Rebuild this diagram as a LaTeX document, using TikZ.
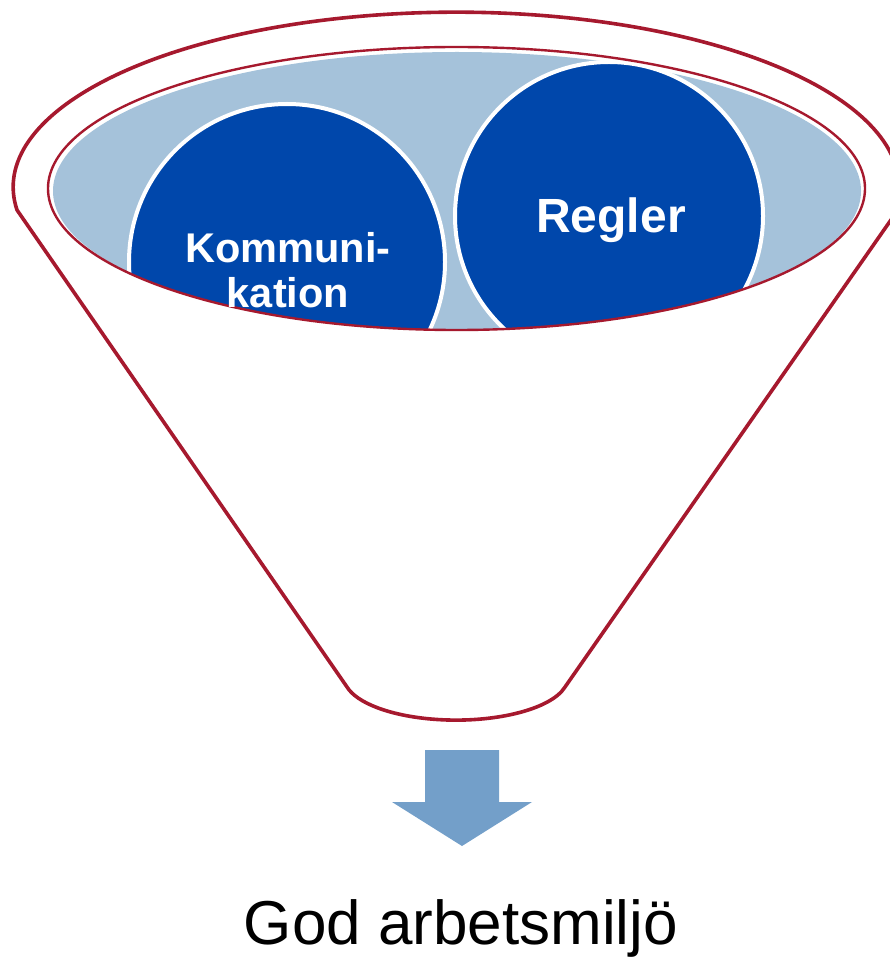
\documentclass[tikz,border=0pt]{standalone}
\usepackage{fontspec}
\setmainfont{Liberation Sans}
\definecolor{funred}{HTML}{A6192E}
\definecolor{dblue}{HTML}{0047AB}
\definecolor{lblue}{HTML}{A5C2DA}
\definecolor{arrblue}{HTML}{739FC9}
\tikzset{
  ball/.style={circle, fill=dblue, draw=white, line width=4pt, inner sep=0pt},
  balltext/.style={text=white, inner sep=0pt, anchor=base},
}
\begin{document}
\begin{tikzpicture}[x=1pt,y=-1pt]
\useasboundingbox (0,0) rectangle (890,957);
% funnel body
\path[fill=white, draw=funred, line width=3.6pt, line join=round]
  (17,210) arc[start angle=172.5, end angle=370.2, x radius=443, y radius=175]
  -- (565,687) arc[start angle=13.3, end angle=166.7, x radius=112, y radius=43]
  -- cycle;
% light blue inside
\fill[lblue] (457,191) ellipse[x radius=404, y radius=139];
% balls clipped to inner ellipse
\begin{scope}
  \clip (456.5,188.5) ellipse[x radius=408.5, y radius=141.5];
  \node[ball, minimum size=316pt] (komm) at (287,262) {};
  \node[ball, minimum size=308pt] (regl) at (609,216) {};
\end{scope}
% inner rim
\draw[funred, line width=2.4pt] (456.5,188.5) ellipse[x radius=408.5, y radius=141.5];
% texts
\node[balltext, font=\bfseries\fontsize{41.5}{45}\selectfont] (t1) at (288,262) {Kommuni-};
\node[balltext, font=\bfseries\fontsize{41.5}{45}\selectfont] (t2) at (288,307) {kation};
\node[balltext, font=\bfseries\fontsize{48}{52}\selectfont] (t3) at (611,233) {Regler};
% arrow
\fill[arrblue] (425,750) -- (499,750) -- (499,802) -- (532,802) -- (462,846)
  -- (392,802) -- (425,802) -- cycle;
% result
\node[inner sep=0pt, anchor=base, font=\fontsize{62}{70}\selectfont] (res) at (461,944) {God arbetsmiljö};
\end{tikzpicture}
\end{document}
